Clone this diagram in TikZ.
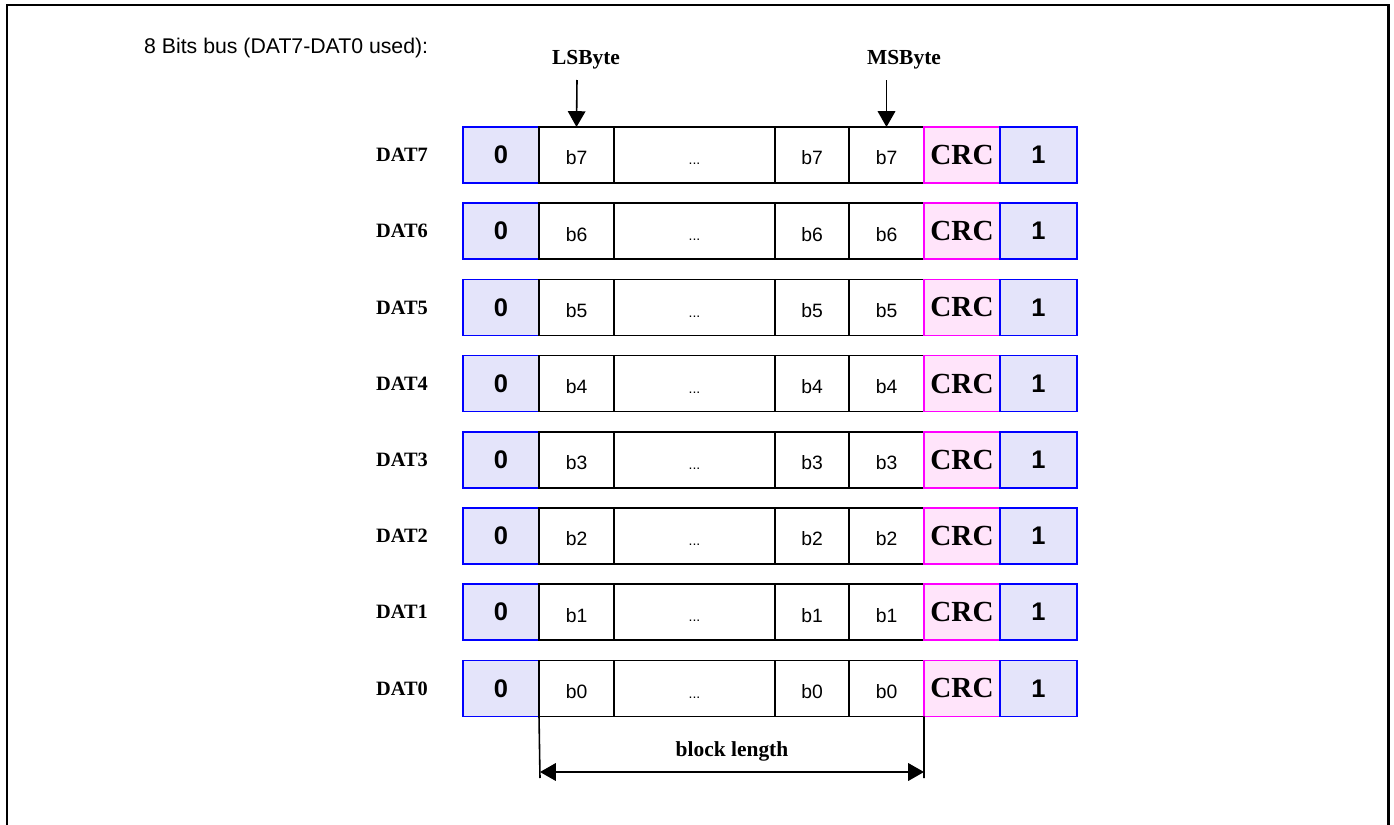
\documentclass[tikz,border=0pt]{standalone}
\usepackage{fontspec}
\setmainfont{Liberation Serif}
\setsansfont{Liberation Sans}
\usepackage{xcolor}
\usepackage{tikz}
\usetikzlibrary{arrows.meta}
\definecolor{bitblue}{RGB}{228,228,250}
\definecolor{crcpink}{RGB}{255,228,250}
\definecolor{crcedge}{RGB}{255,0,255}
\definecolor{bitedge}{RGB}{0,0,255}
\newcommand{\lowbit}[1]{\raisebox{-1.7pt}[\height][0pt]{#1}}
\tikzstyle{cell} = [draw=black,line width=1pt,minimum height=1.12cm,inner sep=0pt,outer sep=0pt,font=\sffamily\fontsize{11}{13}\selectfont]
\tikzstyle{edgebit} = [cell,draw=bitedge,fill=bitblue,font=\sffamily\bfseries\fontsize{14.5}{16}\selectfont]
\tikzstyle{crcbit} = [cell,draw=crcedge,fill=crcpink,font=\bfseries\fontsize{16.6}{18}\selectfont]
\tikzstyle{linename} = [font=\bfseries\fontsize{11.6}{13}\selectfont]
\tikzstyle{byte} = [font=\bfseries\fontsize{12.2}{14}\selectfont]
\tikzstyle{arrow} = [line width=0.9pt,-{Triangle[width=10pt,length=9pt]}]

\begin{document}
\begin{tikzpicture}[x=0.02cm,y=-0.02cm]
	\useasboundingbox (0,0) rectangle (1394,825);
	% Frame, open at the bottom
	\draw [line width=1.7pt] (7,825) -- (7,5) -- (1388,5) -- (1388,825);

	\node [anchor=west,font=\sffamily\fontsize{12.1}{14}\selectfont] (title) at (138,48) {8 Bits bus (DAT7-DAT0 used):};

	% One row of cells for every data line
	\foreach \r [count=\k from 0] in {7,...,0}{%
		\pgfmathsetmacro\yy{155+76.2*\k}
		\node [linename] (dat\r) at (402,\yy) {DAT\r};
		\node [edgebit,minimum width=1.52cm] (start\r) at (501,\yy) {0};
		\node [cell,minimum width=1.50cm] (lsb\r) at (576.5,\yy) {\lowbit{b\r}};
		\node [cell,minimum width=3.22cm,font=\sffamily\fontsize{8}{9}\selectfont] (dots\r) at (694.5,\yy) {\raisebox{0pt}[11pt][0pt]{...}};
		\node [cell,minimum width=1.48cm] (mid\r) at (812,\yy) {\lowbit{b\r}};
		\node [cell,minimum width=1.50cm] (msb\r) at (886.5,\yy) {\lowbit{b\r}};
		\node [crcbit,minimum width=1.52cm] (crc\r) at (962,\yy) {CRC};
		\node [edgebit,minimum width=1.54cm] (stop\r) at (1038.5,\yy) {1};
	}

	% Byte order markers
	\node [byte] (lsbyte) at (586,60) {LSByte};
	\node [byte] (msbyte) at (904,60) {MSByte};
	\coordinate (lstail) at (577,80);
	\coordinate (mstail) at (886.5,80);
	\draw [arrow] (lstail) -- (lsb7.north);
	\draw [arrow] (mstail) -- (msb7.north);

	% Block length
	\coordinate (bl) at (540,778);
	\coordinate (br) at (924,778);
	\coordinate (blarrow) at (540,772);
	\coordinate (brarrow) at (924,772);
	\draw [line width=0.9pt] (lsb0.south west) -- (bl);
	\draw [line width=0.9pt] (msb0.south east) -- (br);
	\draw [line width=0.9pt,{Triangle[width=10pt,length=9pt]}-{Triangle[width=10pt,length=9pt]}] (blarrow) -- (brarrow);
	\node [byte] (blocklen) at (732,751) {block length};
\end{tikzpicture}
\end{document}
